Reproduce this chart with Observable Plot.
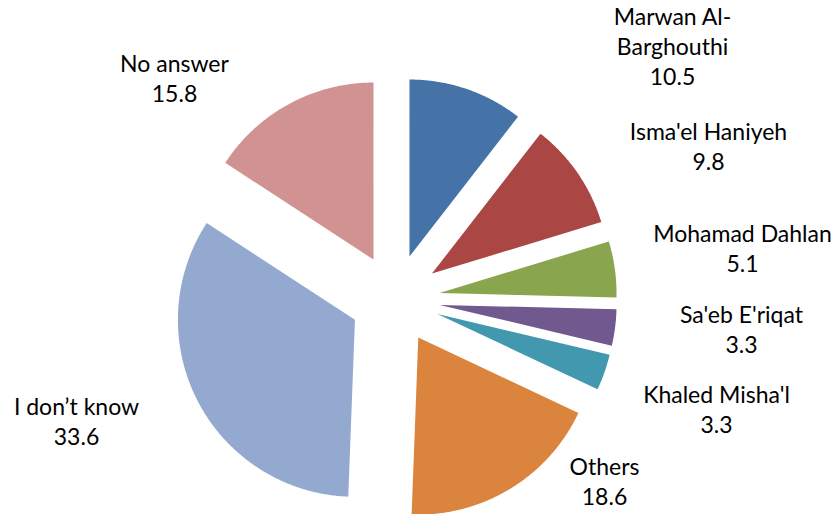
<!DOCTYPE html>
<html>
<head>
<meta charset="utf-8">
<script src="https://cdn.jsdelivr.net/npm/d3@7"></script>
<script src="https://cdn.jsdelivr.net/npm/@observablehq/plot@0.6"></script>
<style>
  html, body { margin: 0; padding: 0; background: #ffffff; }
  #chart svg { display: block; }
</style>
</head>
<body>
<div id="chart"></div>
<script>
// ---- data ----
const categories = ["Marwan Al-Barghouthi", "Isma'el Haniyeh", "Mohamad Dahlan", "Sa'eb E'riqat", "Khaled Misha'l", "Others", "I don’t know", "No answer"];
const values = [10.5, 9.8, 5.1, 3.3, 3.3, 18.6, 33.6, 15.8];
const labelNames = ["Marwan Al-\nBarghouthi", "Isma'el Haniyeh", "Mohamad Dahlan", "Sa'eb E'riqat", "Khaled Misha'l", "Others", "I don’t know", "No answer"];
const colors = ["#4572A7", "#AA4643", "#89A54E", "#71588F", "#4198AF", "#DB843D", "#93A9CF", "#D19392"];

// ---- layout ----
const W = 838, H = 514;
const cx = 394.4, cy = 298.6;   // pie centre (px)
const R = 177;                  // pie radius (px)
const explode = 45 / R;         // explosion, in radius units
// label anchor (centre x, baseline of last line), px
const labelPx = [[672, 84], [708, 169], [742, 271], [741, 352], [716, 432], [604, 504], [76, 444], [174, 101]];
const fontSize = 23, lineH = 30;

// ---- geometry (pie units, y up, angle clockwise from 12 o'clock) ----
const total = d3.sum(values);
const slices = [];
let cum = 0;
values.forEach((v, i) => {
  const a0 = cum / total * 2 * Math.PI;
  const a1 = (cum + v) / total * 2 * Math.PI;
  cum += v;
  const am = (a0 + a1) / 2;
  const ox = explode * Math.sin(am), oy = explode * Math.cos(am);
  slices.push({cat: categories[i], x: ox, y: oy});
  const n = Math.max(4, Math.ceil((a1 - a0) / (Math.PI / 360)));
  for (let k = 0; k <= n; k++) {
    const a = a0 + (a1 - a0) * k / n;
    slices.push({cat: categories[i], x: ox + Math.sin(a), y: oy + Math.cos(a)});
  }
});

const labels = categories.map((c, i) => ({
  cat: c,
  text: labelNames[i] + "\n" + values[i].toFixed(1),
  x: (labelPx[i][0] - cx) / R,
  y: (cy - labelPx[i][1]) / R
}));

const chart = Plot.plot({
  width: W,
  height: H,
  margin: 0,
  style: {background: "#ffffff", fontFamily: "Lato, 'Open Sans', sans-serif"},
  x: {domain: [-cx / R, (W - cx) / R], range: [0, W], axis: null},
  y: {domain: [-(H - cy) / R, cy / R], range: [H, 0], axis: null},
  color: {domain: categories, range: colors},
  marks: [
    Plot.line(slices, {x: "x", y: "y", z: "cat", fill: "cat", stroke: "none", curve: "linear-closed"}),
    Plot.text(labels, {
      x: "x", y: "y", text: "text",
      fontSize, lineHeight: lineH / fontSize, lineAnchor: "bottom",
      textAnchor: "middle", fill: "#000000"
    })
  ]
});
document.getElementById("chart").appendChild(chart);
</script>
</body>
</html>
